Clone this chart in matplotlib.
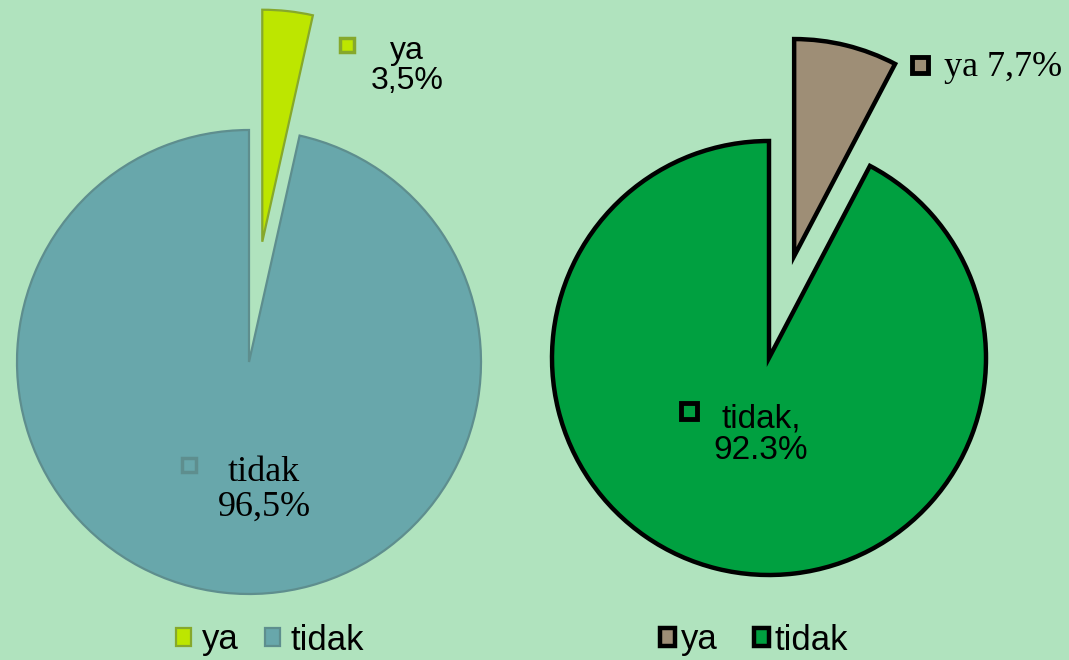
import matplotlib
matplotlib.use('Agg')
import matplotlib.pyplot as plt

# data
labels = ['ya', 'tidak']
left_values = [3.5, 96.5]
right_values = [7.7, 92.3]
left_colors = ['#bde600', '#68a7ab']
left_edges = ['#86a82c', '#5e8e8e']
right_colors = ['#9e8e76', '#00a040']

BG = '#b0e3be'
SANS = 'Liberation Sans'
SERIF = 'Liberation Serif'

fig = plt.figure(figsize=(10.69, 6.6), dpi=100)
fig.patch.set_facecolor(BG)
ax = fig.add_axes([0, 0, 1, 1])
ax.set_facecolor(BG)

# left pie (explode is in data units here, since radius != 1)
wl, _ = ax.pie(left_values, colors=left_colors, startangle=90, counterclock=False,
               explode=[121, 0], center=(249, 298), radius=232, frame=True,
               wedgeprops=dict(linewidth=1.6))
for w, ec in zip(wl, left_edges):
    w.set_edgecolor(ec)

# right pie
wr, _ = ax.pie(right_values, colors=right_colors, startangle=90, counterclock=False,
               explode=[105, 0], center=(769, 302), radius=217, frame=True,
               wedgeprops=dict(linewidth=3.2, edgecolor='black'))

ax.set_xlim(0, 1069)
ax.set_ylim(0, 660)
ax.set_aspect('equal')
ax.axis('off')

# data labels, left
ax.plot(347, 615, 's', ms=10, mfc=left_colors[0], mec=left_edges[0], mew=2.5)
ax.text(407, 594, '%s\n%s%%' % (labels[0], str(left_values[0]).replace('.', ',')),
        ha='center', va='center', fontsize=23, family=SANS, linespacing=1.0)
ax.plot(189, 195, 's', ms=10, mfc=left_colors[1], mec=left_edges[1], mew=2.5)
ax.text(264, 170, '%s\n%s%%' % (labels[1], str(left_values[1]).replace('.', ',')),
        ha='center', va='center', fontsize=26, family=SERIF, linespacing=1.05)

# data labels, right
ax.plot(920, 595, 's', ms=11, mfc=right_colors[0], mec='black', mew=3.5)
ax.text(944, 593, '%s %s%%' % (labels[0], str(right_values[0]).replace('.', ',')),
        ha='left', va='center', fontsize=26, family=SERIF)
ax.plot(689, 249, 's', ms=11, mfc=right_colors[1], mec='black', mew=3.5)
ax.text(761, 225, '%s,\n%s%%' % (labels[1], right_values[1]),
        ha='center', va='center', fontsize=24, family=SANS, linespacing=1.0)

# legends
leg_kw = dict(ncol=2, frameon=False, handlelength=0.45, handleheight=0.45,
              borderaxespad=0, borderpad=0, prop=dict(family=SANS, size=25))
l1 = ax.legend(wl, labels, loc='center', bbox_to_anchor=(270 / 1069, 20 / 660),
               handletextpad=0.3, columnspacing=0.75, **leg_kw)
ax.add_artist(l1)
ax.legend(wr, labels, loc='center', bbox_to_anchor=(754 / 1069, 20 / 660),
          handletextpad=0.15, columnspacing=1.05, **leg_kw)

fig.savefig('out.png', dpi=100, facecolor=BG)
